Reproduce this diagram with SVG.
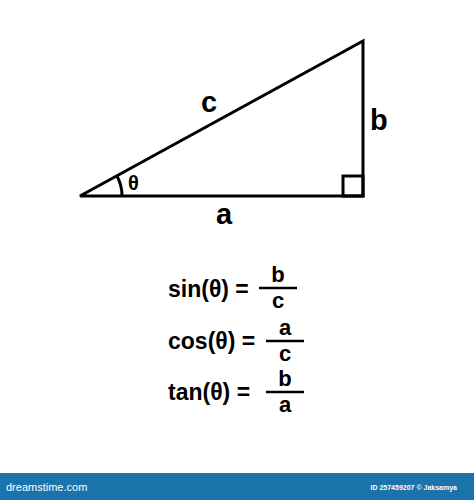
<svg xmlns="http://www.w3.org/2000/svg" width="474" height="500" viewBox="0 0 474 500">
<style>
.ln{fill:none;stroke:#000;stroke-width:3;stroke-linejoin:miter}
.t{font-family:"Liberation Sans",Arial,sans-serif;font-weight:bold;fill:#000}
.lbl{font-size:29px}
.f{font-size:23px}
.fr{font-size:22px;text-anchor:middle}
.bar{stroke:#000;stroke-width:2.5}
</style>
<rect width="474" height="500" fill="#fff"/>
<g id="triangle">
<polygon class="ln" points="80,196 363,41 363,196"/>
<rect class="ln" x="343" y="176" width="20" height="20" stroke-width="2.5"/>
<path class="ln" d="M122,196 A42,42 0 0 0 117,176" stroke-width="2.5"/>
</g>
<g id="labels">
<text class="t lbl" x="201" y="112">c</text>
<text class="t lbl" x="370" y="130">b</text>
<text class="t lbl" x="216" y="224">a</text>
<text class="t" x="128" y="190" font-size="20">θ</text>
</g>
<g id="sin">
<text class="t f" x="168" y="297">sin(θ) =</text>
<line class="bar" x1="259" y1="288" x2="297" y2="288"/>
<text class="t fr" x="278" y="282">b</text>
<text class="t fr" x="278" y="308">c</text>
</g>
<g id="cos">
<text class="t f" x="168" y="349">cos(θ) =</text>
<line class="bar" x1="266" y1="341" x2="304" y2="341"/>
<text class="t fr" x="285" y="335">a</text>
<text class="t fr" x="285" y="361">c</text>
</g>
<g id="tan">
<text class="t f" x="168" y="400">tan(θ) =</text>
<line class="bar" x1="266" y1="392" x2="304" y2="392"/>
<text class="t fr" x="285" y="386">b</text>
<text class="t fr" x="285" y="412">a</text>
</g>
<g id="footer">
<rect x="0" y="473" width="474" height="27" fill="#1a73aa"/>
<text x="6" y="491" font-family="'Liberation Sans',Arial,sans-serif" font-size="11" fill="#fff">dreamstime.com</text>
<text x="457" y="490" font-family="'Liberation Sans',Arial,sans-serif" font-size="7" font-weight="bold" fill="#fff" text-anchor="end">ID 257459207 © Jaksamya</text>
</g>
</svg>
